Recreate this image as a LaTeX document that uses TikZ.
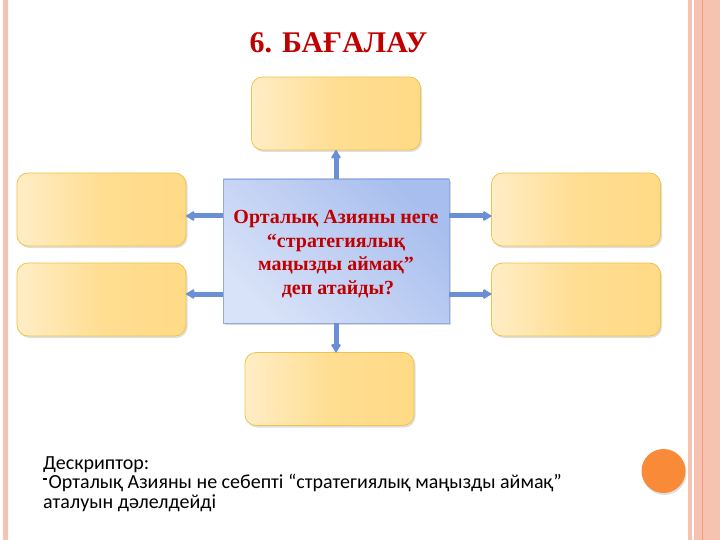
\documentclass[tikz,border=0pt]{standalone}
\usepackage{fontspec}
\setmainfont{Liberation Serif}
\newfontfamily\descfont{Carlito}
\usetikzlibrary{arrows.meta,shadows}
\definecolor{titlered}{HTML}{C00000}
\definecolor{boxlight}{HTML}{FFEDC6}
\definecolor{boxmid}{HTML}{FFDE92}
\definecolor{boxdark}{HTML}{FFDA86}
\definecolor{boxline}{HTML}{EEC54A}
\definecolor{qlight}{HTML}{D8E2F8}
\definecolor{qdark}{HTML}{A8BEEE}
\definecolor{qline}{HTML}{93AADD}
\definecolor{linkblue}{HTML}{6A8FD6}
\definecolor{stripe}{HTML}{F6C3B0}
\definecolor{stripeline}{HTML}{F49A74}
\definecolor{dotorange}{HTML}{F98A38}
\newcommand\dashmark{\raisebox{9bp}{\rule{4bp}{1.8bp}}\hspace{1.5bp}}
\tikzset{
    answer/.style={draw=boxline, line width=0.8bp, rounded corners=11bp,
      left color=boxlight, right color=boxdark, middle color=boxmid,
      minimum width=169bp, minimum height=73bp, inner sep=0pt, outer sep=0pt,
      drop shadow={shadow xshift=1.5bp, shadow yshift=-2bp, opacity=0.25}},
    question/.style={draw=qline, line width=0.8bp, top color=qdark, bottom color=qlight,
      shading angle=-45, minimum width=226bp, minimum height=144bp, inner sep=0pt, outer sep=0pt,
      align=center, text=titlered, font=\bfseries\fontsize{20bp}{23.5bp}\selectfont,
      drop shadow={shadow xshift=1.5bp, shadow yshift=-2bp, opacity=0.3}},
    link/.style={draw=linkblue, line width=5bp, -{Latex[round,length=10bp,width=12bp]}},
  }
\begin{document}
\begin{tikzpicture}[x=1bp,y=-1bp]
				  \useasboundingbox (0,0) rectangle (720,540);
				  %FOND
				  \fill[stripe] (3,0) rectangle (8,540);
				  \fill[stripe] (688,0) rectangle (692,540);
				  \fill[stripe] (694,0) rectangle (720,540);
				  \draw[stripeline, line width=1.5bp] (702.5,0) -- (702.5,540);
				  \fill[dotorange, drop shadow={shadow xshift=1bp, shadow yshift=-2bp, opacity=0.25}] (663.5,471) circle (22);

				  %TITRE
				  \node[anchor=base, text=titlered, font=\bfseries\fontsize{30bp}{36bp}\selectfont] (title) at (338.5,53) {6. БАҒАЛАУ};

				  %CASES
				  \node[question] (q) at (336,251) {\rule{0pt}{19bp}Орталық Азияны неге\\“стратегиялық\\маңызды аймақ”\\\hspace*{4bp}деп атайды?};
				  \node[answer] (top) at (336,113.5) {};
				  \node[answer] (lt) at (101.5,209.5) {};
				  \node[answer] (lb) at (101.5,299.5) {};
				  \node[answer] (rt) at (576,209.5) {};
				  \node[answer] (rb) at (576,299.5) {};
				  \node[answer] (bot) at (329.5,389) {};

				  %FLECHES
				  \coordinate (up) at (0,216);
				  \coordinate (lo) at (0,294);
				  \draw[link] (q.north) -- (top.south);
				  \draw[link] (q.south) -- (q.south |- bot.north);
				  \draw[link] (q.west |- up) -- (lt.east |- up);
				  \draw[link] (q.west |- lo) -- (lb.east |- lo);
				  \draw[link] (q.east |- up) -- (rt.west |- up);
				  \draw[link] (q.east |- lo) -- (rb.west |- lo);

				  %DESCRIPTEUR
				  \node[anchor=base west, align=left, inner sep=0pt, font=\descfont\fontsize{20bp}{19.5bp}\selectfont] (desc) at (43,508)
				     {Дескриптор:\\\dashmark Орталық Азияны не себепті “стратегиялық маңызды аймақ”\\аталуын дәлелдейді};
				  \end{tikzpicture}
\end{document}
